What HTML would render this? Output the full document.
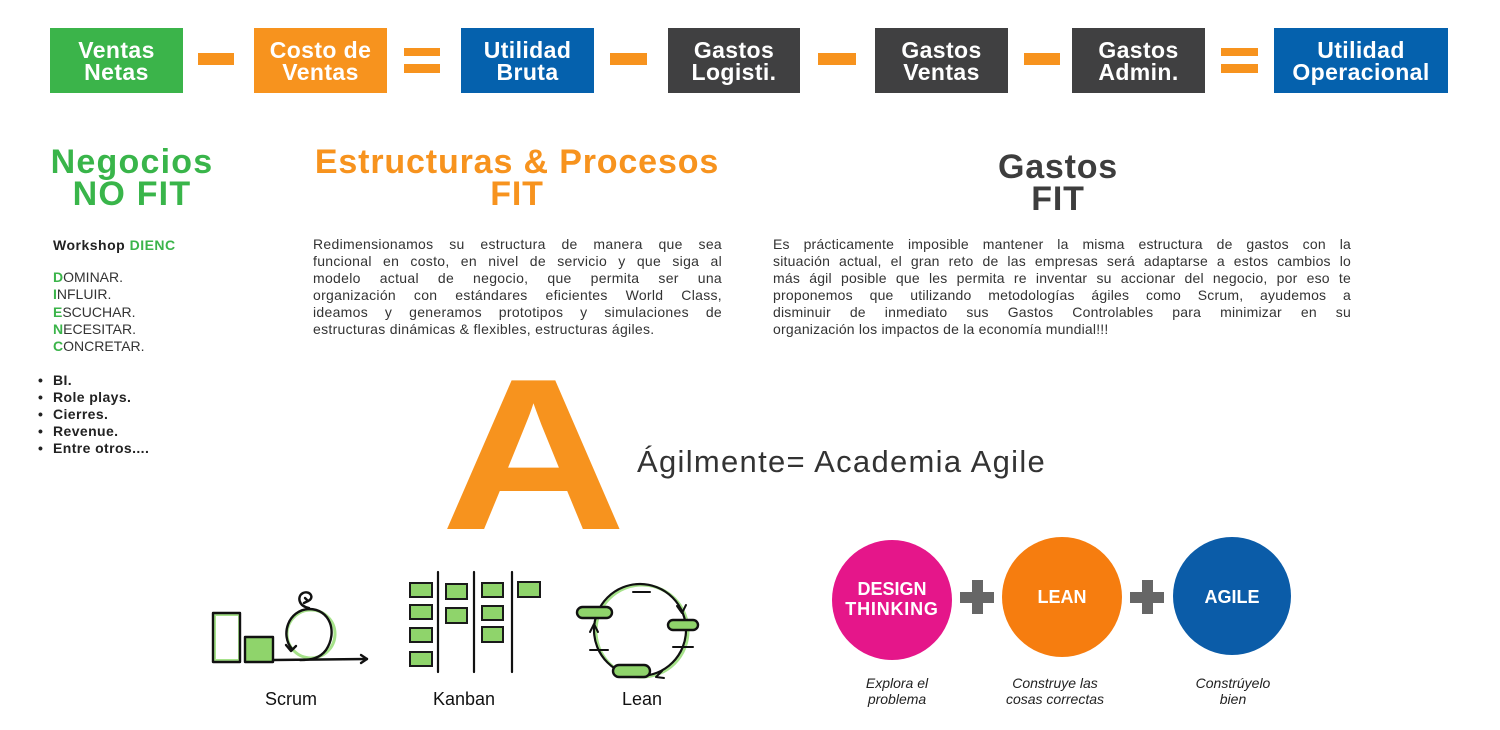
<!DOCTYPE html>
<html><head><meta charset="utf-8">
<style>
*{margin:0;padding:0;box-sizing:border-box}
html,body{width:1500px;height:730px;background:#fff;overflow:hidden;position:relative;font-family:"Liberation Sans",Arial,sans-serif;color:#333}
.box{position:absolute;top:28px;height:65px;color:#fff}
.box div{position:absolute;left:0;right:0;top:11px;text-align:center;font-weight:bold;font-size:23px;line-height:22px;letter-spacing:0.4px}
.g{background:#3bb44a}.o{background:#f7931e}.b{background:#0561ad}.d{background:#404041}
.bar{position:absolute;background:#f7931e}
.h{position:absolute;font-weight:bold;font-size:34px;line-height:32px;text-align:center;white-space:nowrap}
.p{position:absolute;font-size:14px;line-height:17px;letter-spacing:0.3px;color:#333}
.p div{text-align:justify;text-align-last:justify;white-space:normal}
.p div.l{text-align:left;text-align-last:left}
.lst{position:absolute;left:53px;font-size:14px;line-height:17.3px;color:#333}
.lst b{color:#3bb44a}
.bul{position:absolute;left:53px;font-size:14px;line-height:17px;font-weight:bold;color:#222;letter-spacing:0.4px}
.bul span{position:absolute;left:-15px}
</style></head><body>

<div class="box g" style="left:50px;width:133px"><div>Ventas<br>Netas</div></div>
<div class="bar" style="left:198px;top:53px;width:36px;height:12px"></div>
<div class="box o" style="left:254px;width:133px"><div>Costo de<br>Ventas</div></div>
<div class="bar" style="left:404px;top:48px;width:36px;height:8px"></div>
<div class="bar" style="left:404px;top:64px;width:36px;height:9px"></div>
<div class="box b" style="left:461px;width:133px"><div>Utilidad<br>Bruta</div></div>
<div class="bar" style="left:610px;top:53px;width:37px;height:12px"></div>
<div class="box d" style="left:668px;width:132px"><div>Gastos<br>Logisti.</div></div>
<div class="bar" style="left:818px;top:53px;width:38px;height:12px"></div>
<div class="box d" style="left:875px;width:133px"><div>Gastos<br>Ventas</div></div>
<div class="bar" style="left:1024px;top:53px;width:36px;height:12px"></div>
<div class="box d" style="left:1072px;width:133px"><div>Gastos<br>Admin.</div></div>
<div class="bar" style="left:1221px;top:48px;width:37px;height:8px"></div>
<div class="bar" style="left:1221px;top:64px;width:37px;height:9px"></div>
<div class="box b" style="left:1274px;width:174px"><div>Utilidad<br>Operacional</div></div>

<div class="h" style="left:32px;width:200px;top:146px;color:#39b54a;letter-spacing:1.2px">Negocios<br>NO FIT</div>
<div class="h" style="left:300px;width:434px;top:146px;color:#f7931e;letter-spacing:0.85px">Estructuras &amp; Procesos<br>FIT</div>
<div class="h" style="left:958px;width:200px;top:151px;color:#3d3d3d;letter-spacing:0.8px">Gastos<br>FIT</div>

<div style="position:absolute;left:53px;top:237px;font-size:14px;font-weight:bold;letter-spacing:0.5px;color:#222">Workshop <span style="color:#3bb44a">DIENC</span></div>
<div class="lst" style="top:269px">
<div><b>D</b>OMINAR.</div>
<div><b>I</b>NFLUIR.</div>
<div><b>E</b>SCUCHAR.</div>
<div><b>N</b>ECESITAR.</div>
<div><b>C</b>ONCRETAR.</div>
</div>
<div class="bul" style="top:372px">
<div><span>•</span>BI.</div>
<div><span>•</span>Role plays.</div>
<div><span>•</span>Cierres.</div>
<div><span>•</span>Revenue.</div>
<div><span>•</span>Entre otros....</div>
</div>

<div class="p" style="left:313px;top:236px;width:409px">
<div>Redimensionamos su estructura de manera que sea</div>
<div>funcional en costo, en nivel de servicio y que siga al</div>
<div>modelo actual de negocio, que permita ser una</div>
<div>organización con estándares eficientes World Class,</div>
<div>ideamos y generamos prototipos y simulaciones de</div>
<div class="l">estructuras dinámicas &amp; flexibles, estructuras ágiles.</div>
</div>

<div class="p" style="left:773px;top:236px;width:578px;letter-spacing:0.2px">
<div>Es prácticamente imposible mantener la misma estructura de gastos con la</div>
<div>situación actual, el gran reto de las empresas  será adaptarse a estos cambios lo</div>
<div>más ágil posible que les  permita re inventar su accionar del negocio, por eso te</div>
<div>proponemos que  utilizando metodologías ágiles como Scrum, ayudemos a</div>
<div>disminuir de inmediato sus Gastos Controlables para minimizar en su</div>
<div class="l">organización  los impactos de la economía mundial!!!</div>
</div>

<svg width="1500" height="730" style="position:absolute;left:0;top:0" xmlns="http://www.w3.org/2000/svg">
<!-- Big A -->
<text x="533.5" y="529" font-family="Liberation Sans, Arial, sans-serif" font-weight="bold" font-size="216" fill="#f7931e" text-anchor="middle" transform="matrix(1.19 0 0 1 -101.37 0)">A</text>
<text x="637" y="472" font-family="Liberation Sans, Arial, sans-serif" font-size="31" fill="#333" letter-spacing="1.3">Ágilmente= Academia Agile</text>

<!-- Scrum -->
<g fill="none" stroke="#111" stroke-width="2.4" stroke-linecap="round" stroke-linejoin="round">
<rect x="215" y="615" width="24" height="45" stroke="#a6e28a" stroke-width="2"/>
<rect x="213" y="613" width="27" height="49"/>
<rect x="245" y="637" width="28" height="25" fill="#8fd46b"/>
<circle cx="311" cy="634" r="24" stroke="#a6e28a" stroke-width="3"/>
<path d="M292 649 C 280 635, 288 610, 309 609 C 330 609, 338 632, 326 650 C 320 658, 312 660, 300 660"/>
<path d="M286 645 L291 651 L296 646"/>
<path d="M309 608 C 298 606, 297 596, 303 593 C 310 590, 315 598, 308 601"/>
<path d="M305 598 L308 601 L304 603"/>
<path d="M273 660 L367 659"/>
<path d="M361 655 L367 659 L361 663"/>
</g>
<text x="291" y="705" font-family="Liberation Sans, Arial, sans-serif" font-size="18" fill="#111" text-anchor="middle">Scrum</text>

<!-- Kanban -->
<g stroke="#111" stroke-width="2.2" stroke-linecap="round">
<line x1="438" y1="572" x2="438" y2="672"/>
<line x1="474" y1="572" x2="474" y2="672"/>
<line x1="512" y1="572" x2="512" y2="672"/>
</g>
<g fill="#8fd46b" stroke="#1a1a1a" stroke-width="2">
<rect x="410" y="583" width="22" height="14"/>
<rect x="410" y="605" width="22" height="14"/>
<rect x="410" y="628" width="22" height="14"/>
<rect x="410" y="652" width="22" height="14"/>
<rect x="446" y="584" width="21" height="15"/>
<rect x="446" y="608" width="21" height="15"/>
<rect x="482" y="583" width="21" height="14"/>
<rect x="482" y="606" width="21" height="14"/>
<rect x="482" y="627" width="21" height="15"/>
<rect x="518" y="582" width="22" height="15"/>
</g>
<text x="464" y="705" font-family="Liberation Sans, Arial, sans-serif" font-size="18" fill="#111" text-anchor="middle">Kanban</text>

<!-- Lean -->
<g fill="none" stroke-linecap="round" stroke-linejoin="round">
<circle cx="642" cy="631" r="46" stroke="#a6e28a" stroke-width="3"/>
<circle cx="640" cy="630" r="46" stroke="#111" stroke-width="2.2"/>
<path d="M677 606 L682 613 L686 605" stroke="#111" stroke-width="2"/>
<path d="M662 671 L656 677 L664 678" stroke="#111" stroke-width="2"/>
<path d="M590 632 L594 624 L598 632" stroke="#111" stroke-width="2"/>
<line x1="633" y1="592" x2="650" y2="592" stroke="#111" stroke-width="2"/>
<line x1="590" y1="650" x2="608" y2="650" stroke="#111" stroke-width="2"/>
<line x1="673" y1="647" x2="693" y2="647" stroke="#111" stroke-width="2"/>
</g>
<g fill="#8fd46b" stroke="#111" stroke-width="2.4">
<rect x="577" y="607" width="35" height="11" rx="5.5"/>
<rect x="668" y="620" width="30" height="10" rx="5"/>
<rect x="613" y="665" width="37" height="12" rx="6"/>
</g>
<text x="642" y="705" font-family="Liberation Sans, Arial, sans-serif" font-size="18" fill="#111" text-anchor="middle">Lean</text>

<!-- Circles -->
<circle cx="892" cy="600" r="60" fill="#e5168a"/>
<circle cx="1062" cy="597" r="60" fill="#f67d0f"/>
<circle cx="1232" cy="596" r="59" fill="#0b5ca8"/>
<g fill="#666">
<rect x="960" y="592" width="34" height="11"/>
<rect x="972" y="580" width="11" height="34"/>
<rect x="1130" y="592" width="34" height="11"/>
<rect x="1142" y="580" width="11" height="34"/>
</g>
<g font-family="Liberation Sans, Arial, sans-serif" font-weight="bold" font-size="18" fill="#fff" text-anchor="middle">
<text x="892" y="595">DESIGN</text>
<text x="892" y="615" letter-spacing="0.8">THINKING</text>
<text x="1062" y="603">LEAN</text>
<text x="1232" y="603">AGILE</text>
</g>
<g font-family="Liberation Sans, Arial, sans-serif" font-style="italic" font-size="14" fill="#222" text-anchor="middle">
<text x="897" y="688">Explora el</text>
<text x="897" y="704">problema</text>
<text x="1055" y="688">Construye las</text>
<text x="1055" y="704">cosas correctas</text>
<text x="1233" y="688">Constrúyelo</text>
<text x="1233" y="704">bien</text>
</g>
</svg>
</body></html>
